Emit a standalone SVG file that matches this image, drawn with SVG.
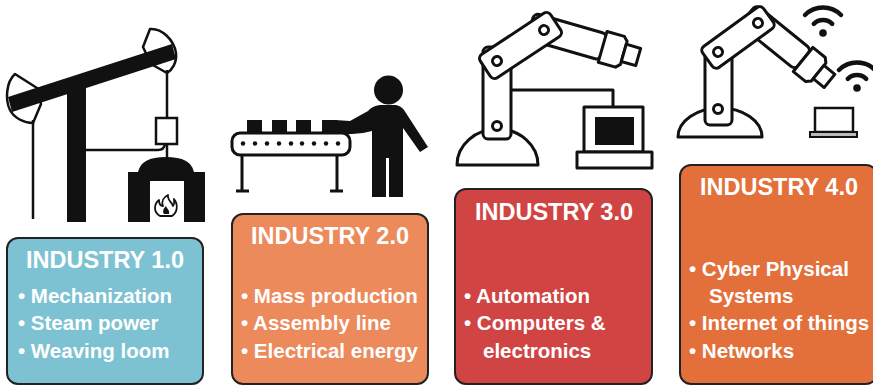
<svg xmlns="http://www.w3.org/2000/svg" xmlns:xlink="http://www.w3.org/1999/xlink" width="873" height="386" viewBox="0 0 873 386">
  <style>
    .ln { fill: none; stroke: #111; stroke-width: 3; stroke-linejoin: round; }
    .thin { fill: none; stroke: #111; stroke-width: 2.5; stroke-linejoin: round; }
    .wf { fill: #fff; stroke: #111; stroke-width: 3; stroke-linejoin: round; }
    .blk { fill: #111; }
    .box { stroke: #222; stroke-width: 2; }
    .hd { font-family: "Liberation Sans", Arial, sans-serif; font-weight: bold; font-size: 23.5px; fill: #fff; text-anchor: middle; }
    .bl { font-family: "Liberation Sans", Arial, sans-serif; font-weight: bold; font-size: 20.5px; fill: #fff; }
  </style>
  <defs>
    <g id="wifi">
      <circle cx="0" cy="0" r="3.8" fill="#111"/>
      <path d="M-9.2,-9.2 A13,13 0 0 1 9.2,-9.2" fill="none" stroke="#111" stroke-width="4.5" stroke-linecap="round"/>
      <path d="M-18,-18 A25.5,25.5 0 0 1 18,-18" fill="none" stroke="#111" stroke-width="4.5" stroke-linecap="round"/>
    </g>
  </defs>

  <rect width="873" height="386" fill="#fff"/>

  <!-- Steam engine: walking beam, piston rod and furnace -->
  <g id="icon-steam">
    <line x1="33" y1="120" x2="33" y2="219" stroke="#111" stroke-width="2.5"/>
    <path class="thin" d="M15,74 L37,88 L41,104 L33,123 C24,123 14,118 10,110 C5,100 6,82 15,74 Z" fill="#fff"/>
    <path class="thin" d="M150,29 C162,28 174,40 176,53 C177,63 172,70 167,73 L151,64 L143,47 Z" fill="#fff"/>
    <polygon class="blk" points="8,97 172,44 176,59 12,112"/>
    <rect class="blk" x="67" y="82" width="19" height="140"/>
    <line x1="167" y1="70" x2="167" y2="118" stroke="#111" stroke-width="2.5"/>
    <rect x="156" y="118" width="21" height="26" fill="#fff" stroke="#111" stroke-width="2.5"/>
    <path d="M86,150 L158,150 Q164,150 165,144" fill="none" stroke="#111" stroke-width="2.5"/>
    <line x1="167" y1="144" x2="167" y2="159" stroke="#111" stroke-width="2.5"/>
    <path class="blk" d="M128,222 L128,172 L138,172 Q141,157 166,157 Q191,157 194,172 L205,172 L205,222 L184,222 L184,181 L150,181 L150,222 Z"/>
    <path d="M160,216 C153,212 154,204 159,200 C159,204 161,206 163,206 C161,201 164,197 168,195 C167,200 172,202 173,206 C175,204 174,201 174,199 C178,204 178,212 172,216 Z" fill="none" stroke="#111" stroke-width="1.8" stroke-linejoin="round"/>
    <path d="M164,214 C162,211 164,208 166,206 C167,209 170,210 169,214 Z" fill="#111"/>
  </g>

  <!-- Assembly line with worker -->
  <g id="icon-assembly">
    <rect class="blk" x="247" y="120" width="15" height="13"/>
    <rect class="blk" x="272" y="120" width="15" height="13"/>
    <rect class="blk" x="296" y="120" width="15" height="13"/>
    <rect class="blk" x="322" y="120" width="15" height="13"/>
    <line x1="242" y1="155" x2="242" y2="191" stroke="#111" stroke-width="3"/>
    <line x1="236" y1="191" x2="249" y2="191" stroke="#111" stroke-width="3"/>
    <line x1="337" y1="155" x2="337" y2="191" stroke="#111" stroke-width="3"/>
    <line x1="330" y1="191" x2="343" y2="191" stroke="#111" stroke-width="3"/>
    <rect class="wf" x="232" y="133" width="118" height="22" rx="8"/>
    <g fill="#111">
      <circle cx="243" cy="143.5" r="2.2"/>
      <circle cx="255" cy="143.5" r="2.2"/>
      <circle cx="267" cy="143.5" r="2.2"/>
      <circle cx="279" cy="143.5" r="2.2"/>
      <circle cx="291" cy="143.5" r="2.2"/>
      <circle cx="302" cy="143.5" r="2.2"/>
      <circle cx="314" cy="143.5" r="2.2"/>
      <circle cx="326" cy="143.5" r="2.2"/>
      <circle cx="338" cy="143.5" r="2.2"/>
    </g>
    <circle cx="388.5" cy="90" r="14.5" fill="#111"/>
    <path class="blk" d="M380,105 L396,105 Q401,106 404,110 L428,147 L420,152 L403,128 L403,197 L389,197 L389,158 L386,158 L386,197 L372,197 L372,131 Q362,134 352,134 L337,134 L335,120 L350,121 L368,111 Q372,106 380,105 Z"/>
  </g>

  <!-- Robot arm wired to a computer -->
  <g id="icon-robot">
    <path class="wf" d="M457,165 A40.5,36 0 0 1 538,165 Z"/>
    <path class="ln" d="M511,90 L613,90 L613,107"/>
    <rect class="wf" x="483" y="47" width="28" height="92" rx="5"/>
    <circle class="wf" cx="497" cy="126" r="4.5" stroke-width="2.5"/>
    <g transform="translate(544,30) rotate(16)">
      <rect class="wf" x="-14" y="-13.5" width="76" height="27" rx="5"/>
      <path class="wf" d="M61,-16 L79,-16 L83,-12 L83,12 L79,16 L61,16 Z"/>
      <rect class="wf" x="83" y="-9" width="15" height="18"/>
    </g>
    <g transform="translate(497,61) rotate(-33.4)">
      <rect class="wf" x="-14" y="-14" width="84.3" height="28" rx="5"/>
      <circle class="wf" cx="0" cy="0" r="4.5" stroke-width="2.5"/>
      <circle class="wf" cx="56.3" cy="0" r="4.5" stroke-width="2.5"/>
    </g>
    <rect class="wf" x="584" y="107" width="59" height="45"/>
    <rect class="blk" x="595" y="117" width="39" height="28"/>
    <rect class="wf" x="577" y="152" width="75" height="16"/>
  </g>

  <!-- Connected robot arm, wireless signals and laptop -->
  <g id="icon-smart">
    <path class="wf" d="M678,137 A42,29 0 0 1 762,137 Z"/>
    <rect class="wf" x="705" y="48" width="27" height="77" rx="5"/>
    <circle class="wf" cx="718" cy="109" r="4.5" stroke-width="2.5"/>
    <g transform="translate(758,23) rotate(39)">
      <rect class="wf" x="-13" y="-13" width="71" height="26" rx="5"/>
      <path class="wf" d="M58,-15.5 L74,-15.5 L78,-11.5 L78,11.5 L74,15.5 L58,15.5 Z"/>
      <rect class="wf" x="78" y="-8.5" width="14" height="17"/>
    </g>
    <g transform="translate(718,52) rotate(-36)">
      <rect class="wf" x="-13" y="-13" width="75.4" height="26" rx="5"/>
      <circle class="wf" cx="0" cy="0" r="4.5" stroke-width="2.5"/>
      <circle class="wf" cx="49.4" cy="0" r="4.5" stroke-width="2.5"/>
    </g>
    <use xlink:href="#wifi" href="#wifi" x="823" y="33"/>
    <use xlink:href="#wifi" href="#wifi" x="857" y="88"/>
    <rect x="815" y="108" width="38" height="24" fill="#fff" stroke="#111" stroke-width="2.5"/>
    <rect x="810" y="132" width="47" height="5" fill="#bbb" stroke="#111" stroke-width="2"/>
  </g>

  <!-- Era cards -->
  <g id="industry-1">
    <rect class="box" x="7" y="238" width="196" height="146" rx="11" fill="#7dc2d2"/>
    <text class="hd" x="105" y="268">INDUSTRY 1.0</text>
    <text class="bl" x="18" y="303">• Mechanization</text>
    <text class="bl" x="18" y="330">• Steam power</text>
    <text class="bl" x="18" y="358">• Weaving loom</text>
  </g>

  <g id="industry-2">
    <rect class="box" x="232" y="214" width="196" height="170" rx="11" fill="#ec8a5c"/>
    <text class="hd" x="330" y="244">INDUSTRY 2.0</text>
    <text class="bl" x="241" y="303">• Mass production</text>
    <text class="bl" x="241" y="330">• Assembly line</text>
    <text class="bl" x="241" y="358">• Electrical energy</text>
  </g>

  <g id="industry-3">
    <rect class="box" x="455" y="189" width="197" height="195" rx="11" fill="#d14444"/>
    <text class="hd" x="554" y="220">INDUSTRY 3.0</text>
    <text class="bl" x="464" y="303">• Automation</text>
    <text class="bl" x="464" y="330">• Computers &amp;</text>
    <text class="bl" x="483" y="358">electronics</text>
  </g>

  <g id="industry-4">
    <rect class="box" x="680" y="165" width="197" height="219" rx="11" fill="#e3703b"/>
    <text class="hd" x="779" y="195">INDUSTRY 4.0</text>
    <text class="bl" x="689" y="276">• Cyber Physical</text>
    <text class="bl" x="709" y="303">Systems</text>
    <text class="bl" x="689" y="330">• Internet of things</text>
    <text class="bl" x="689" y="358">• Networks</text>
  </g>
</svg>
